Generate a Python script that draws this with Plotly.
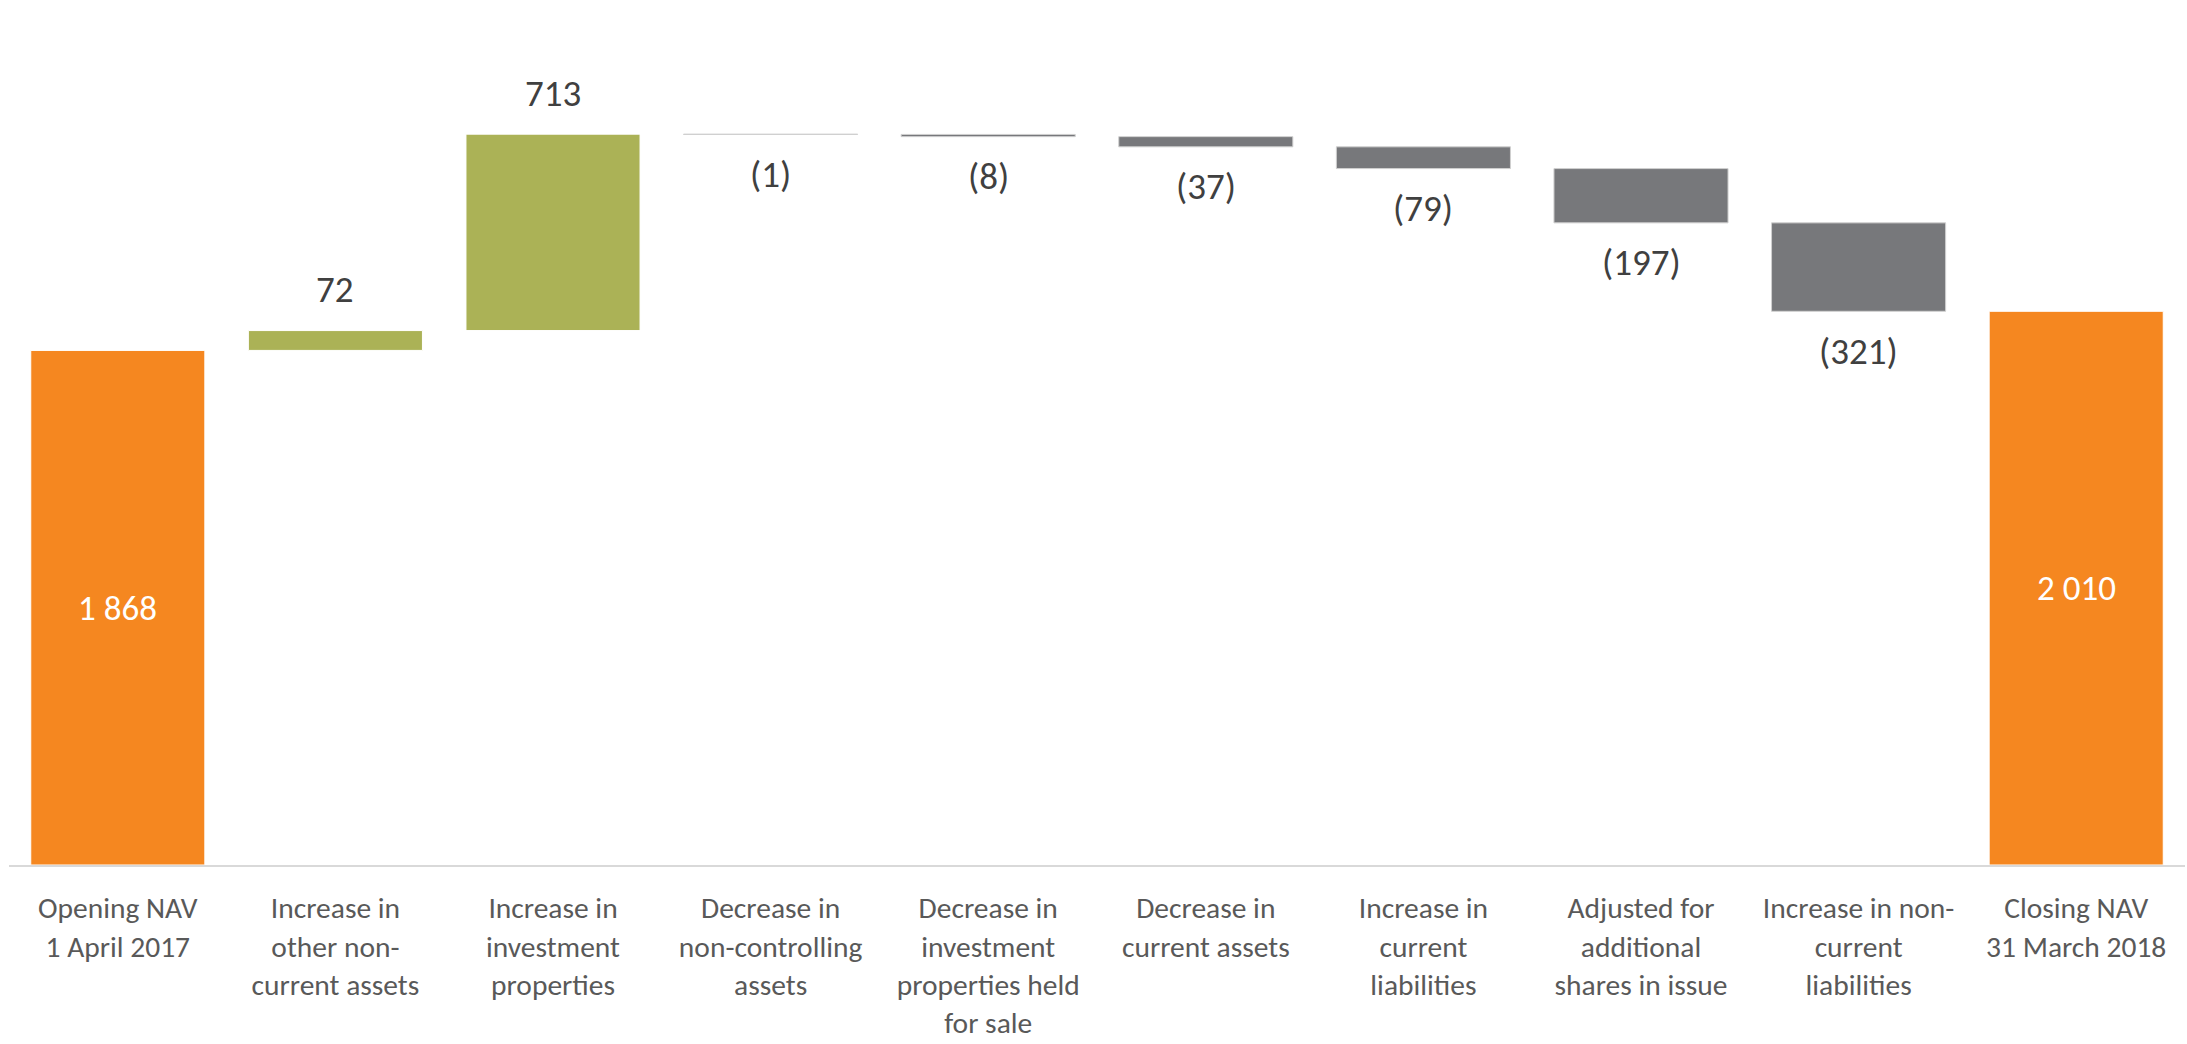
import plotly.graph_objects as go

# NAV bridge: opening NAV, movements, closing NAV
categories = [
    "Opening NAV<br>1 April 2017",
    "Increase in<br>other non-<br>current assets",
    "Increase in<br>investment<br>properties",
    "Decrease in<br>non-controlling<br>assets",
    "Decrease in<br>investment<br>properties held<br>for sale",
    "Decrease in<br>current assets",
    "Increase in<br>current<br>liabilities",
    "Adjusted for<br>additional<br>shares in issue",
    "Increase in non-<br>current<br>liabilities",
    "Closing NAV<br>31 March 2018",
]
values = [1868, 72, 713, -1, -8, -37, -79, -197, -321, 2010]
measures = ["absolute"] + ["relative"] * 8 + ["absolute"]

ORANGE = "#F58720"
GREEN = "#ABB256"
GREY = "#77787B"
LABEL = "#404040"
AXIS_TEXT = "#595959"
FONT = "Calibri, Carlito, Lato, sans-serif"


def fmt(v):
    s = f"{abs(v):,}".replace(",", " ")
    return f"({s})" if v < 0 else s


fig = go.Figure(
    go.Waterfall(
        x=categories,
        y=values,
        measure=measures,
        width=0.8,
        increasing=dict(marker=dict(color=GREEN, line=dict(color="white", width=1))),
        decreasing=dict(marker=dict(color=GREY, line=dict(color="#D0D0D0", width=1))),
        totals=dict(marker=dict(color=ORANGE, line=dict(color="white", width=1))),
        connector=dict(visible=False),
        textinfo="none",
        hoverinfo="skip",
    )
)

# value labels: totals inside (white), movements above / below the bar end
running = 0
for cat, v, m in zip(categories, values, measures):
    if m == "absolute":
        running = v
        fig.add_annotation(x=cat, y=v / 2, text=fmt(v), showarrow=False,
                           font=dict(family=FONT, size=35, color="white"),
                           yanchor="middle")
    else:
        running += v
        fig.add_annotation(x=cat, y=running, text=fmt(v), showarrow=False,
                           font=dict(family=FONT, size=37, color=LABEL),
                           yanchor="middle", yshift=41 if v > 0 else -40)

fig.update_layout(
    width=2187,
    height=1044,
    margin=dict(l=9, r=2, t=0, b=179),
    paper_bgcolor="white",
    plot_bgcolor="white",
    showlegend=False,
    font=dict(family=FONT),
)
fig.update_xaxes(
    showline=True, linecolor="#D9D9D9", linewidth=2,
    showgrid=False, ticks="", ticklabelstandoff=16, automargin=False,
    tickfont=dict(family=FONT, size=29.5, color=AXIS_TEXT),
    tickangle=0,
)
fig.update_yaxes(visible=False, range=[0, 3140], showgrid=False, zeroline=False)

fig.write_html("out.html")
